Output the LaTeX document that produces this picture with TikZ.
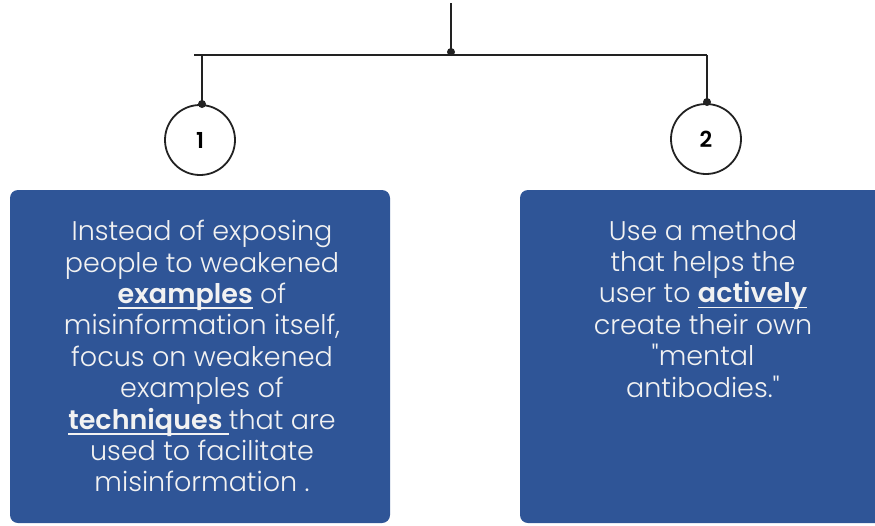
\documentclass[tikz,border=0pt]{standalone}
\usepackage{fontspec}
\setmainfont{Poppins}[UprightFont={* Light}, BoldFont={* SemiBold}, Ligatures=TeXOff]
\definecolor{boxblue}{HTML}{2F5597}
\definecolor{txtwhite}{HTML}{F2F2F2}
\definecolor{linegray}{HTML}{222222}
\newsavebox{\ulbbox}
\newcommand{\ulb}[1]{\sbox{\ulbbox}{\textbf{#1}}\rlap{\rule[-5.5pt]{\wd\ulbbox}{1.8pt}}\usebox{\ulbbox}}
\begin{document}
\begin{tikzpicture}[x=1pt,y=-1pt,
  conn/.style={line width=2pt, draw=linegray},
  dotmark/.style={circle, fill=linegray, inner sep=0pt, minimum size=8pt},
  numcirc/.style={circle, draw=linegray, line width=1.8pt, minimum size=70pt, inner sep=0pt, font=\fontsize{22}{26}\selectfont\bfseries},
  panel/.style={fill=boxblue, rounded corners=8pt, inner sep=0pt},
  paneltext/.style={text=txtwhite, align=center, font=\fontsize{27}{31.4}\selectfont, anchor=north, inner sep=0pt}
]
\useasboundingbox (0,0) rectangle (875,525);
% panels
\node[panel, minimum width=380pt, minimum height=333pt] (p1) at (200,356.5) {};
\node[panel, minimum width=370pt, minimum height=333pt] (p2) at (705,356.5) {};
% texts
\node[paneltext] (t1) at (202,220) {Instead of exposing\\people to weakened\\\ulb{examples} of\\misinformation itself,\\focus on weakened\\examples of\\\ulb{techniques\ }that are\\used to facilitate\\misinformation .};
\node[paneltext] (t2) at (703,220) {Use a method\\that helps the\\user to \ulb{actively}\\create their own\\"mental\\antibodies."};
% number circles
\node[numcirc] (c1) at (200,140) {1};
\node[numcirc] (c2) at (706,139) {2};
% connectors
\coordinate (top) at (451,3);
\coordinate (hl) at (194,55);
\coordinate (hr) at (707,55);
\coordinate (b1) at (202,55);
\coordinate (b2) at (707,55);
\node[dotmark] (hub) at (451,52) {};
\node[dotmark] (d1) at (202,104) {};
\node[dotmark] (d2) at (707,102) {};
\draw[conn] (top) -- (hub.center);
\draw[conn] (hl) -- (hr);
\draw[conn] (b1) -- (d1.center);
\draw[conn] (b2) -- (d2.center);
\end{tikzpicture}
\end{document}
